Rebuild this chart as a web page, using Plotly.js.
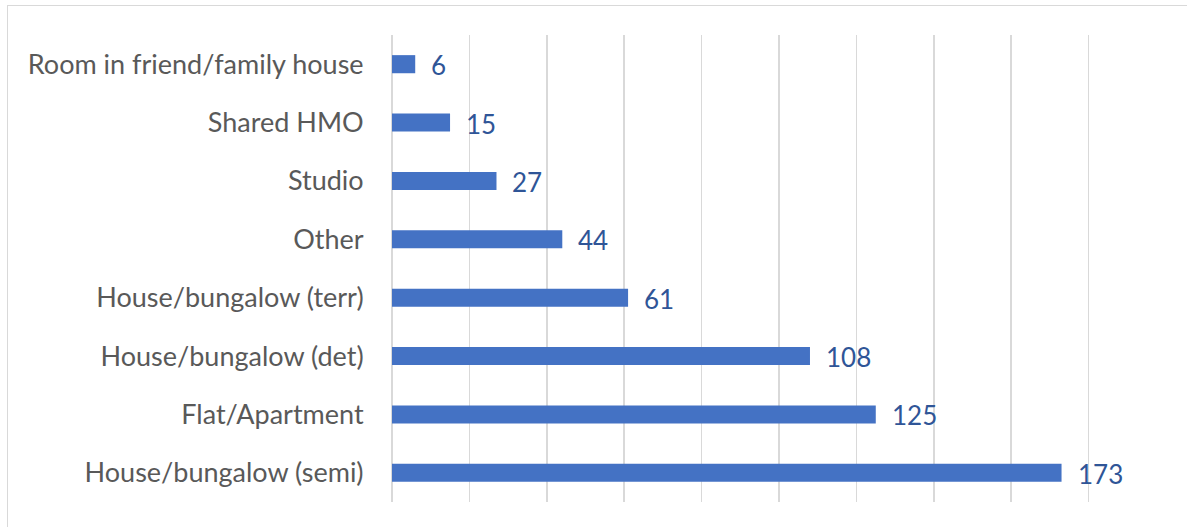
<!DOCTYPE html>
<html>
<head>
<meta charset="utf-8">
<script src="https://cdn.plot.ly/plotly-3.0.1.min.js"></script>
<style>
  html, body { margin: 0; padding: 0; background: #fff; }
  #wrap { position: relative; width: 1187px; height: 527px; overflow: hidden; }
  #frame { position: absolute; left: 7px; top: 5px; width: 1200px; height: 540px;
           border: 1.5px solid #D9D9D9; box-sizing: border-box; pointer-events: none; }
  #chart { position: absolute; left: 0; top: 0; width: 1187px; height: 527px; }
</style>
</head>
<body>
<div id="wrap">
  <div id="chart"></div>
  <div id="frame"></div>
</div>
<script>
// Dwelling types, listed bottom to top as drawn
const categories = [
  'House/bungalow (semi)',
  'Flat/Apartment',
  'House/bungalow (det)',
  'House/bungalow (terr)',
  'Other',
  'Studio',
  'Shared HMO',
  'Room in friend/family house'
];
const counts = [173, 125, 108, 61, 44, 27, 15, 6];

const fontFamily = 'Lato, "Open Sans", sans-serif';

const trace = {
  type: 'bar',
  orientation: 'h',
  y: categories,
  x: counts,
  marker: { color: '#4472C4' },
  hoverinfo: 'x+y'
};

// Value labels sit just past the end of each bar
const annotations = counts.map((v, i) => ({
  x: v,
  y: categories[i],
  xref: 'x',
  yref: 'y',
  text: String(v),
  showarrow: false,
  xanchor: 'left',
  yanchor: 'middle',
  xshift: 14,
  yshift: -1,
  font: { family: fontFamily, size: 26, color: '#2F5597' }
}));

const layout = {
  width: 1187,
  height: 527,
  margin: { l: 392, r: 20, t: 35, b: 25, pad: 0 },
  paper_bgcolor: 'rgba(0,0,0,0)',
  plot_bgcolor: '#ffffff',
  bargap: 0.69,
  showlegend: false,
  xaxis: {
    range: [0, 200.25],
    tickvals: [0, 20, 40, 60, 80, 100, 120, 140, 160, 180, 200],
    showgrid: true,
    gridcolor: '#D9D9D9',
    gridwidth: 1.5,
    zeroline: true,
    zerolinecolor: '#D9D9D9',
    zerolinewidth: 1.5,
    showticklabels: false,
    showline: false,
    fixedrange: true
  },
  yaxis: {
    type: 'category',
    categoryorder: 'array',
    categoryarray: categories,
    showgrid: false,
    zeroline: false,
    showline: false,
    ticks: 'outside',
    ticklen: 22,
    tickcolor: 'rgba(0,0,0,0)',
    tickfont: { family: fontFamily, size: 27, color: '#595959' },
    fixedrange: true
  },
  annotations: annotations
};

Plotly.newPlot('chart', [trace], layout, { displayModeBar: false, staticPlot: true });
</script>
</body>
</html>
